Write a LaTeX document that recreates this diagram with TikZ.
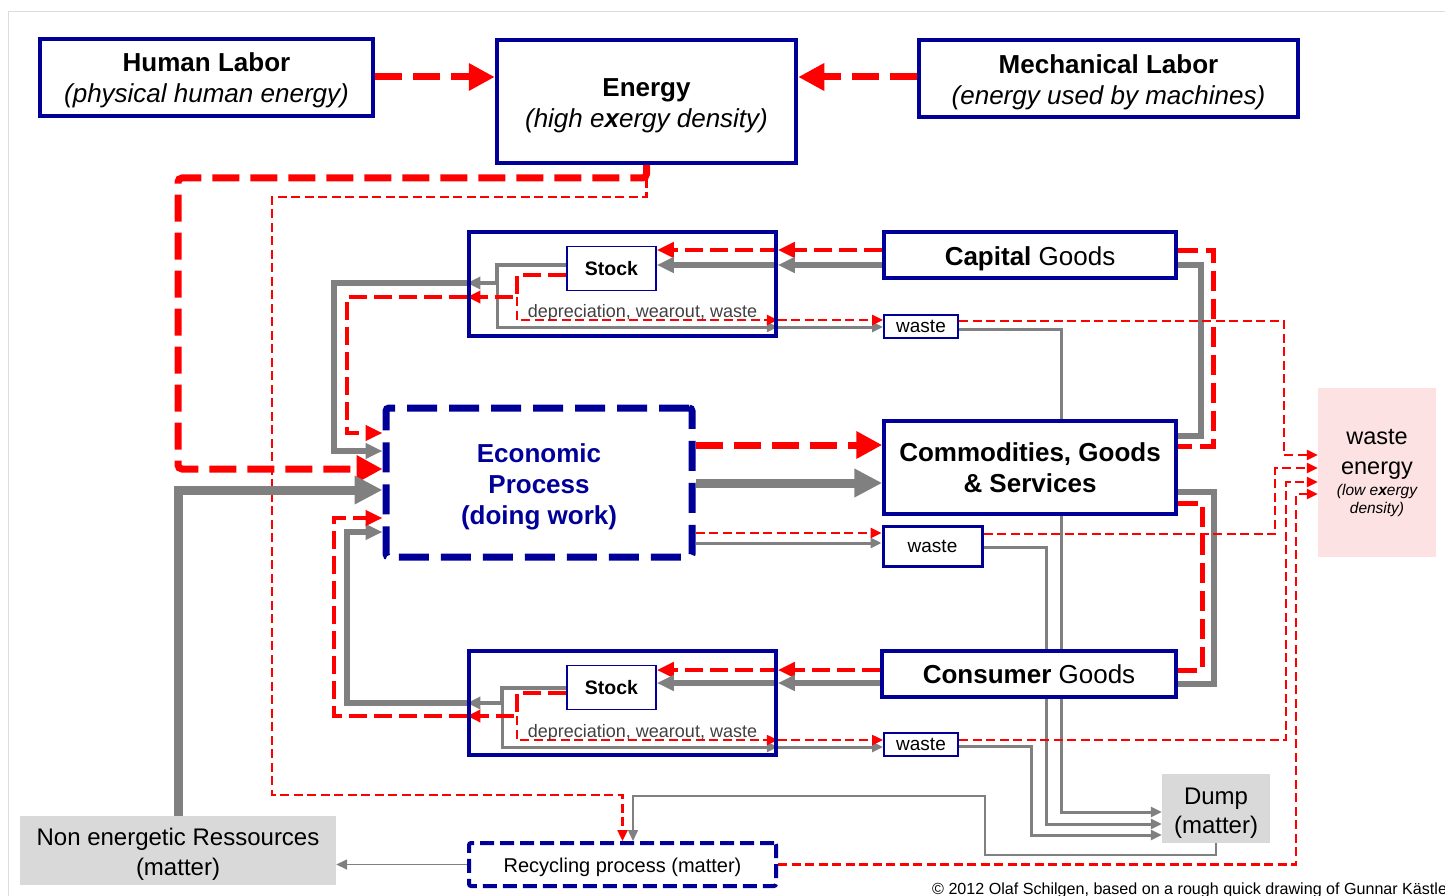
\documentclass[tikz,border=0pt]{standalone}
\usepackage{fontspec}
\setmainfont{Liberation Sans}
\usetikzlibrary{arrows.meta}
\pgfdeclarelayer{bg}
\pgfsetlayers{bg,main}
\definecolor{dblue}{RGB}{0,0,153}
\definecolor{myred}{RGB}{255,0,0}
\definecolor{mygray}{RGB}{128,128,128}
\definecolor{boxgray}{RGB}{217,217,217}
\definecolor{pinkish}{RGB}{252,226,226}
\definecolor{txtgray}{RGB}{64,64,64}
\definecolor{framegray}{RGB}{220,220,220}
\newcommand\fsA{\fontsize{26}{31}\selectfont}
\newcommand\fsStock{\fontsize{19.5}{23}\selectfont}
\newcommand\fsDep{\fontsize{18}{21}\selectfont}
\newcommand\fsW{\fontsize{19}{22}\selectfont}
\newcommand\fsB{\fontsize{24}{29}\selectfont}
\newcommand\fsNE{\fontsize{24}{30}\selectfont}
\newcommand\fsC{\fontsize{20}{24}\selectfont}
\newcommand\fsWE{\fontsize{23.5}{29}\selectfont}
\newcommand\fsWEs{\fontsize{15.5}{19}\selectfont}
\newcommand\fsCopy{\fontsize{16.1}{19}\selectfont}
\newcommand\tallstrut[1]{\rule{0pt}{#1}}
\tikzset{
  box/.style={draw=dblue, line width=3.5pt, fill=white, inner sep=0pt, align=center, font=\fsA},
  wastebox/.style={draw=dblue, line width=2pt, fill=white, inner sep=0pt, font=\fsW},
  stockbox/.style={draw=dblue, line width=1.5pt, fill=white, inner sep=0pt, font=\fsStock\bfseries},
  outerbox/.style={draw=dblue, line width=3.5pt, inner sep=0pt},
  graybox/.style={fill=boxgray, inner sep=0pt, align=center},
  redA/.style={draw=myred, line width=7pt, dash pattern=on 27pt off 11pt},
  redB/.style={draw=myred, line width=4.5pt, dash pattern=on 18pt off 7pt},
  redBB/.style={draw=myred, line width=5pt, dash pattern=on 20pt off 8pt},
  redC/.style={draw=myred, line width=2.4pt, dash pattern=on 9pt off 4.5pt},
  grayA/.style={draw=mygray, line width=9pt},
  grayB/.style={draw=mygray, line width=5.5pt},
  grayCC/.style={draw=mygray, line width=4pt},
  grayC/.style={draw=mygray, line width=3pt},
  grayD/.style={draw=mygray, line width=1.5pt},
  tipBig/.style={-{Triangle[length=26pt,width=26pt]}},
  tipBigG/.style={-{Triangle[length=28pt,width=27pt]}},
  tipM/.style={-{Triangle[length=17pt,width=15pt]}},
  tipMS/.style={-{Triangle[length=13pt,width=12pt]}},
  tipS/.style={-{Triangle[length=11pt,width=10pt]}},
}
\begin{document}
\begin{tikzpicture}[x=1pt,y=-1pt]
\useasboundingbox (0,0) rectangle (1445,896);
\draw[framegray, line width=1pt] (8,896) -- (8,12) -- (1445,12);

% ---------- nodes ----------
\node[box, minimum width=333pt, minimum height=77pt] (hl) at (206.5,77.5)
  {\tallstrut{25pt}\textbf{Human Labor}\\\textit{(physical human energy)}};
\node[box, line width=4.5pt, minimum width=299pt, minimum height=123pt] (en) at (646.5,101.5)
  {\tallstrut{27pt}\textbf{Energy}\\\textit{(high e\textbf{x}ergy density)}};
\node[box, minimum width=379pt, minimum height=77pt] (ml) at (1108.5,78.5)
  {\tallstrut{27pt}\textbf{Mechanical Labor}\\\textit{(energy used by machines)}};

\node[outerbox, minimum width=307pt, minimum height=104pt] (cs) at (622.5,284) {};
\node[stockbox, minimum width=89pt, minimum height=44pt] (st1) at (611.5,268.5) {Stock};
\node[font=\fsDep, text=txtgray, inner sep=0pt, anchor=base] (dep1) at (642.5,317) {depreciation, wearout, waste};
\node[box, minimum width=292pt, minimum height=46pt] (cg) at (1030,255) {\tallstrut{26pt}\textbf{Capital} Goods};
\node[wastebox, minimum width=74pt, minimum height=23pt] (w1) at (921,326.5) {waste};

\node[draw=dblue, line width=7pt, dash pattern=on 30pt off 12pt, rounded corners=3pt, fill=white,
  minimum width=306pt, minimum height=149pt, inner sep=0pt, text=dblue, font=\fsA\bfseries, align=center]
  (ep) at (539,482.5) {\tallstrut{27pt}Economic\\Process\\(doing work)};
\node[box, minimum width=292pt, minimum height=93pt] (cm) at (1030,467.5)
  {\textbf{Commodities, Goods}\\\textbf{\& Services}};
\node[wastebox, line width=3pt, minimum width=99pt, minimum height=40pt] (w2) at (932.5,546) {waste};

\node[outerbox, minimum width=307pt, minimum height=104pt] (ks) at (622.5,703) {};
\node[stockbox, minimum width=89pt, minimum height=44pt] (st2) at (611.5,687.5) {Stock};
\node[font=\fsDep, text=txtgray, inner sep=0pt, anchor=base] (dep2) at (642.5,737) {depreciation, wearout, waste};
\node[box, minimum width=294pt, minimum height=46pt] (kg) at (1029,674) {\textbf{Consumer} Goods};
\node[wastebox, minimum width=74pt, minimum height=23pt] (w3) at (921,744.5) {waste};

\node[fill=pinkish, minimum width=118pt, minimum height=169pt, inner sep=0pt] (we) at (1377,472.5) {};
\node[font=\fsWE, anchor=base, inner sep=0pt] (we1) at (1377,444) {waste};
\node[font=\fsWE, anchor=base, inner sep=0pt] (we2) at (1377,474) {energy};
\node[font=\fsWEs\itshape, anchor=base, inner sep=0pt] (we3) at (1377,495) {(low e\textbf{x}ergy};
\node[font=\fsWEs\itshape, anchor=base, inner sep=0pt] (we4) at (1377,513) {density)};

\node[graybox, font=\fsB, minimum width=108pt, minimum height=69pt] (dp) at (1216,808.5) {\tallstrut{25pt}Dump\\(matter)};
\node[graybox, font=\fsNE, minimum width=316pt, minimum height=69pt] (ne) at (178,850.5)
  {\tallstrut{24pt}Non energetic Ressources\\(matter)};
\node[draw=dblue, line width=4pt, dash pattern=on 14pt off 6pt, rounded corners=2pt, fill=white,
  minimum width=307pt, minimum height=43pt, inner sep=0pt, font=\fsC] (rc) at (622.5,864.5)
  {\tallstrut{20pt}Recycling process (matter)};
\node[font=\fsCopy, anchor=base west, inner sep=0pt] (cp) at (932,894)
  {© 2012 Olaf Schilgen, based on a rough quick drawing of Gunnar Kästle};

% ---------- connectors ----------
\begin{pgfonlayer}{bg}
% labor to energy
\draw[redA, tipBig] (hl.east |- 0,77) -- (en.west |- 0,77);
\draw[redA, tipBig] (ml.west |- 0,77) -- (en.east |- 0,77);
% energy to economic process
\draw[redA, tipBig, rounded corners=4pt] (en.south) |- (178,178) |- (ep.west |- 0,469);
% energy to recycling (thin)
\draw[redC, tipS] (en.south) -- (646.5,197) -| (272,795) -| (rc.north);
% economic process outputs
\draw[redA, tipBig] (ep.east |- 0,445) -- (cm.west |- 0,445);
\draw[grayA, tipBigG] (ep.east |- 0,483) -- (cm.west |- 0,483);
\draw[redC, tipS] (ep.east |- 0,533) -- (w2.west |- 0,533);
\draw[grayC, tipS] (ep.east |- 0,543) -- (w2.west |- 0,543);
% non energetic resources to economic process
\draw[grayA, tipBigG] (ne.north) |- (ep.west |- 0,490);

% capital goods -> capital stock
\draw[redB, tipM] (cg.west |- 0,250) -- (cs.east |- 0,250);
\draw[redB, tipM] (cs.east |- 0,250) -- (st1.east |- 0,250);
\draw[grayB, tipM] (cg.west |- 0,265) -- (cs.east |- 0,265);
\draw[grayB, tipM] (cs.east |- 0,265) -- (st1.east |- 0,265);
% capital stock internal
\draw[grayCC, tipMS] (st1.west |- 0,265) -| (497,283) -- (cs.west |- 0,283);
\draw[grayC, tipS] (497,283) |- (cs.east |- 0,327);
\draw[grayC, tipS] (cs.east |- 0,327) -- (w1.west |- 0,327);
\draw[redB, tipMS] (st1.west |- 0,275) -| (517,297) -- (cs.west |- 0,297);
\draw[redC, tipS] (517,297) |- (cs.east |- 0,320);
\draw[redC, tipS] (cs.east |- 0,320) -- (w1.west |- 0,320);
% capital stock -> economic process
\draw[grayB, tipM] (cs.west |- 0,283) -| (334,451) -- (ep.west |- 0,451);
\draw[redB, tipM] (cs.west |- 0,297) -| (347,433) -- (ep.west |- 0,433);

% consumer goods -> consumer stock
\draw[redB, tipM] (kg.west |- 0,670) -- (ks.east |- 0,670);
\draw[redB, tipM] (ks.east |- 0,670) -- (st2.east |- 0,670);
\draw[grayB, tipM] (kg.west |- 0,683) -- (ks.east |- 0,683);
\draw[grayB, tipM] (ks.east |- 0,683) -- (st2.east |- 0,683);
% consumer stock internal
\draw[grayCC, tipMS] (st2.west |- 0,688) -| (502,703) -- (ks.west |- 0,703);
\draw[grayC, tipS] (502,703) |- (ks.east |- 0,747);
\draw[grayC, tipS] (ks.east |- 0,747) -- (w3.west |- 0,747);
\draw[redB, tipMS] (st2.west |- 0,693) -| (517,716) -- (ks.west |- 0,716);
\draw[redC, tipS] (517,716) |- (ks.east |- 0,740);
\draw[redC, tipS] (ks.east |- 0,740) -- (w3.west |- 0,740);
% consumer stock -> economic process
\draw[grayB, tipM] (ks.west |- 0,703) -| (347,532) -- (ep.west |- 0,532);
\draw[redB, tipM] (ks.west |- 0,716) -| (334,518) -- (ep.west |- 0,518);

% commodities <-> capital / consumer goods
\draw[grayB] (cg.east |- 0,265) -| (1201,436) -- (cm.east |- 0,436);
\draw[redBB] (cg.east |- 0,250) -| (1213,446) -- (cm.east |- 0,446);
\draw[grayB] (cm.east |- 0,492) -| (1214,684) -- (kg.east |- 0,684);
\draw[redBB] (cm.east |- 0,503) -| (1202,670) -- (kg.east |- 0,670);

% waste -> dump
\draw[grayC, tipS] (w1.east |- 0,329) -| (1061,812) -- (dp.west |- 0,812);
\draw[grayC, tipS] (w2.east |- 0,547) -| (1046,824) -- (dp.west |- 0,824);
\draw[grayC, tipS] (w3.east |- 0,746) -| (1031,835) -- (dp.west |- 0,835);

% waste -> waste energy
\draw[redC, tipS] (w1.east |- 0,321) -| (1284,455) -- (we.west |- 0,455);
\draw[redC, tipS] (w2.east |- 0,534) -| (1275,468) -- (we.west |- 0,468);
\draw[redC, tipS] (w3.east |- 0,740) -| (1286,482) -- (we.west |- 0,482);
\draw[redC, tipS] (rc.east) -| (1296,494) -- (we.west |- 0,494);

% dump -> recycling -> resources
\draw[grayD, tipS] (dp.south) |- (985,855) |- (633,796) -- (rc.north -| 633,0);
\draw[grayD, tipS] (rc.west) -- (ne.east |- rc.west);
\end{pgfonlayer}
\end{tikzpicture}
\end{document}
